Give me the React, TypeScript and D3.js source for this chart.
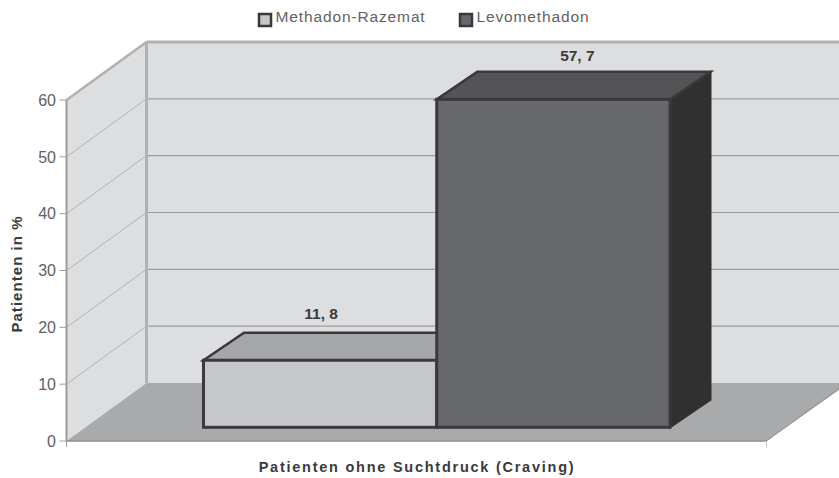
import React from "react";
import * as d3 from "d3";

const seriesNames = ["Methadon-Razemat", "Levomethadon"];
const seriesValues = [11.8, 57.7];
const valueLabels = ["11, 8", "57, 7"];
const yTicks = [0, 10, 20, 30, 40, 50, 60];
const yTitle = "Patienten in %";
const xTitle = "Patienten ohne Suchtdruck (Craving)";
const frontFills = ["#c6c7c9", "#67686c"];
const topFills = ["#a5a6a8", "#545457"];
const sideFills = ["#a5a6a8", "#303030"];
const swatchFills = ["#c6c7c9", "#67686c"];

const W = 839, H = 478;
const FONT = "'Liberation Sans', Arial, sans-serif";

export default function App() {
  const y = d3.scaleLinear().domain([0, 60]).range([441, 100]);
  const x0 = 66.5, x1 = 766.5;
  const dx = 80, dy = -58;
  const barDx = 40.5, barDy = -27.5;
  const barBase = 427.3;
  const band = d3.scaleBand<number>().domain([0, 1]).range([203.5, 670]).paddingInner(0);
  const h = (v: number) => y(0) - y(v);
  const pts = (a: number[][]) => a.map((p) => p.join(",")).join(" ");

  return (
    <svg width={W} height={H} style={{ position: "fixed", left: 0, top: 0, display: "block" }}>
      <rect width={W} height={H} fill="#fff" />
      {/* walls */}
      <polygon points={pts([[x0, y(60)], [x0 + dx, y(60) + dy], [W, y(60) + dy], [W, y(0) + dy], [x0 + dx, y(0) + dy], [x0, y(0)]])} fill="#dddee0" />
      {/* floor */}
      <polygon points={pts([[x0, y(0)], [x0 + dx, y(0) + dy], [W, y(0) + dy], [W, y(0) + dy + 7], [x1, y(0)]])} fill="#a9aaac" />
      {/* grid */}
      {yTicks.filter((t) => t > 0 && t < 60).map((t) => (
        <g key={t}>
          <line x1={x0 + dx} x2={W} y1={y(t) + dy} y2={y(t) + dy} stroke="#9b9c9e" strokeWidth={1.2} />
          <line x1={x0} x2={x0 + dx} y1={y(t)} y2={y(t) + dy} stroke="#a5a6a8" strokeWidth={0.8} />
        </g>
      ))}
      <line x1={x0} x2={x0 + dx} y1={y(60)} y2={y(60) + dy} stroke="#b0b1b3" strokeWidth={2.5} />
      <line x1={x0 + dx} x2={W} y1={y(60) + dy} y2={y(60) + dy} stroke="#b0b1b3" strokeWidth={3} />
      <line x1={x0 + dx} x2={x0 + dx} y1={y(60) + dy} y2={y(0) + dy} stroke="#b0b1b3" strokeWidth={3} />
      <line x1={x0} x2={x0} y1={y(60)} y2={y(0)} stroke="#9b9c9e" strokeWidth={2} />
      <line x1={x0} x2={x1} y1={y(0)} y2={y(0)} stroke="#8e8f91" strokeWidth={1.5} />
      <line x1={x1} x2={W} y1={y(0)} y2={y(0) + (W - x1) * (dy / dx)} stroke="#8e8f91" strokeWidth={1} />
      <line x1={x0} x2={x0} y1={y(0)} y2={y(0) + 6} stroke="#9b9c9e" />
      <line x1={x1} x2={x1} y1={y(0)} y2={y(0) + 7} stroke="#c4c5c7" />
      {yTicks.map((t) => (
        <g key={t}>
          <line x1={x0 - 7} x2={x0} y1={y(t)} y2={y(t)} stroke="#9b9c9e" />
          <text x={56} y={y(t)} dy="0.36em" textAnchor="end" fontFamily={FONT} fontSize={16} fill="#5f6062">{t}</text>
        </g>
      ))}
      {/* bars */}
      {seriesValues.map((v, i) => {
        const l = band(i)!, r = l + band.bandwidth();
        const t = barBase - h(v);
        const stroke = "#3a3a3c";
        return (
          <g key={i} strokeLinejoin="miter">
            <polygon points={pts([[r, t], [r + barDx, t + barDy], [r + barDx, barBase + barDy], [r, barBase]])} fill={sideFills[i]} stroke={i === 1 ? "#303030" : "none"} strokeWidth={2} />
            <polygon points={pts([[l, t], [l + barDx, t + barDy], [r + barDx, t + barDy], [r, t]])} fill={topFills[i]} stroke={stroke} strokeWidth={2.5} />
            <rect x={l} y={t} width={r - l} height={barBase - t} fill={frontFills[i]} stroke={stroke} strokeWidth={3} />
            <text x={(l + r) / 2 + (i === 0 ? 1 : 24)} y={t + barDy - (i === 0 ? 13.5 : 10.5)} textAnchor="middle" fontFamily={FONT} fontWeight="bold" fontSize={15.5} fill="#3a3a3c">{valueLabels[i]}</text>
          </g>
        );
      })}
      {/* axis titles */}
      <text transform="translate(22,274) rotate(-90)" textAnchor="middle" fontFamily={FONT} fontWeight="bold" fontSize={15} letterSpacing={1.05} fill="#3a3a3c">{yTitle}</text>
      <text x={417} y={472} textAnchor="middle" fontFamily={FONT} fontWeight="bold" fontSize={14.5} letterSpacing={1.75} fill="#3a3a3c">{xTitle}</text>
      {/* legend */}
      {seriesNames.map((n, i) => {
        const lx = [259, 460][i];
        return (
          <g key={n}>
            <rect x={lx} y={14} width={12} height={12} fill={swatchFills[i]} stroke="#3a3a3c" strokeWidth={2.5} />
            <text x={lx + 16.5} y={22} fontFamily={FONT} fontSize={15.5} letterSpacing={0.87} fill="#5f6062">{n}</text>
          </g>
        );
      })}
    </svg>
  );
}
